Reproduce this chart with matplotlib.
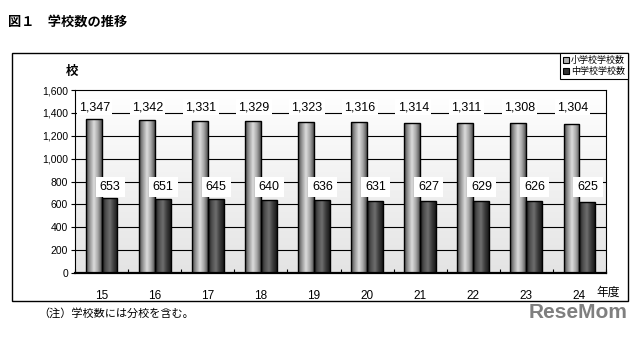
import numpy as np
import matplotlib.pyplot as plt
from matplotlib.patches import Rectangle, Patch
from matplotlib.colors import LinearSegmentedColormap

plt.rcParams['font.family'] = ['Noto Sans CJK JP', 'DejaVu Sans']
num_font = ['Liberation Sans Narrow', 'Liberation Sans', 'DejaVu Sans']

# data
years = ['15', '16', '17', '18', '19', '20', '21', '22', '23', '24']
elementary = [1347, 1342, 1331, 1329, 1323, 1316, 1314, 1311, 1308, 1304]
junior = [653, 651, 645, 640, 636, 631, 627, 629, 626, 625]
series_names = ['小学校学校数', '中学校学校数']
yticks = [0, 200, 400, 600, 800, 1000, 1200, 1400, 1600]

fig = plt.figure(figsize=(6.41, 3.38), dpi=100)
fig.patch.set_facecolor('white')

# outer frame
fig.patches.append(Rectangle((12 / 641, 1 - 301 / 338), 616 / 641, 248 / 338,
                             transform=fig.transFigure, fill=False,
                             edgecolor='black', linewidth=1.0))

ax = fig.add_axes([75 / 641, 1 - 273 / 338, 531 / 641, 183 / 338])

x = np.arange(len(years))
w = 0.3

# background gradient
bg = np.linspace(0, 1, 100).reshape(-1, 1)
bg_cmap = LinearSegmentedColormap.from_list('bg', ['#e4e4e4', '#ffffff'])
ax.imshow(bg, extent=(-0.5, 9.5, 0, 1600), origin='lower', aspect='auto',
          cmap=bg_cmap, zorder=0)

for t in yticks[1:-1]:
    ax.axhline(t, color='black', linewidth=0.8, zorder=1)

gray_cmap = LinearSegmentedColormap.from_list(
    'g', ['#4a4a4a', '#9a9a9a', '#dcdcdc', '#a8a8a8', '#555555'])
dark_cmap = LinearSegmentedColormap.from_list(
    'd', ['#1c1c1c', '#505050', '#6e6e6e', '#3c3c3c', '#181818'])
prof = np.linspace(0, 1, 50).reshape(1, -1)

bars1 = ax.bar(x - w / 2, elementary, w, facecolor='none', edgecolor='black',
               linewidth=1.0, zorder=3)
bars2 = ax.bar(x + w / 2, junior, w, facecolor='none', edgecolor='black',
               linewidth=1.0, zorder=3)
for bars, cm in [(bars1, gray_cmap), (bars2, dark_cmap)]:
    for b in bars:
        x0, h = b.get_x(), b.get_height()
        im = ax.imshow(prof, extent=(x0, x0 + b.get_width(), 0, h),
                       aspect='auto', cmap=cm, zorder=2)
        im.set_clip_path(b)

# value labels
for i in range(len(years)):
    ax.text(x[i] - 0.13, 1450, f'{elementary[i]:,}', ha='center', va='center',
            fontsize=9, family=num_font, zorder=4,
            bbox=dict(facecolor='white', edgecolor='none', pad=1.5))
    ax.text(x[i] + 0.16, 750, f'{junior[i]}', ha='center', va='center',
            fontsize=9, family=num_font, zorder=4,
            bbox=dict(facecolor='white', edgecolor='none', pad=3))

ax.set_xlim(-0.5, 9.5)
ax.set_ylim(0, 1600)
ax.set_yticks(yticks)
ax.set_yticklabels([f'{t:,}' for t in yticks], family=num_font, fontsize=7.5)
ax.set_xticks(x)
ax.set_xticklabels(years, family=num_font, fontsize=8.5)
ax.set_xticks(np.arange(-0.5, 10, 1), minor=True)
ax.tick_params(axis='x', which='major', length=0, pad=12)
ax.tick_params(axis='x', which='minor', length=3, direction='in', width=0.8)
ax.tick_params(axis='y', length=3, direction='out', width=0.8, pad=2)
for s in ax.spines.values():
    s.set_linewidth(0.8)
ax.spines['bottom'].set_linewidth(1.6)

fig.text(8 / 641, 1 - 22 / 338, '図１　学校数の推移', fontsize=9.5,
         fontweight='bold', va='center', ha='left')
fig.text(72 / 641, 1 - 71 / 338, '校', fontsize=9, fontweight='bold',
         va='center', ha='center')
fig.text(608 / 641, 1 - 292 / 338, '年度', fontsize=8.5, va='center',
         ha='center')
fig.text(38 / 641, 1 - 313 / 338, '（注）学校数には分校を含む。', fontsize=8,
         va='center', ha='left')
fig.text(628 / 641, 1 - 313 / 338, 'ReseMom', fontsize=15, fontweight='bold',
         color='#7f7f7f', va='center', ha='right', family=num_font)

handles = [Patch(facecolor='#b0b0b0', edgecolor='black', linewidth=0.8),
           Patch(facecolor='#333333', edgecolor='black', linewidth=0.8)]
leg = fig.legend(handles, series_names, loc='upper right',
                 bbox_to_anchor=(628 / 641, 1 - 53 / 338), fontsize=6.5,
                 fancybox=False, edgecolor='black', framealpha=1,
                 handlelength=0.7, handleheight=0.7, handletextpad=0.2,
                 borderpad=0.35, labelspacing=0.2, borderaxespad=0)
leg.get_frame().set_linewidth(0.8)

fig.savefig('out.png', dpi=100)
